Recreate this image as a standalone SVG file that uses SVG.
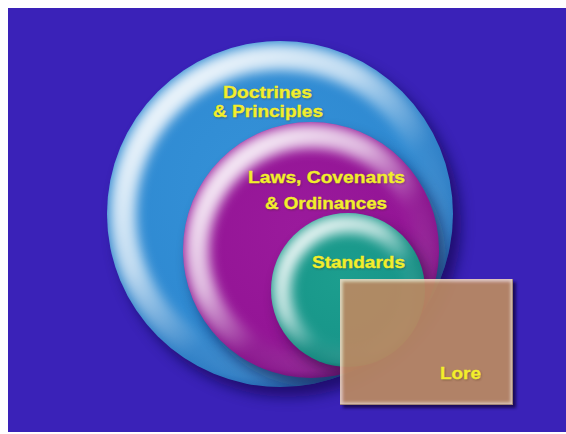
<svg xmlns="http://www.w3.org/2000/svg" width="566" height="434" viewBox="0 0 566 434">
  <defs>
    <style>
      .label { font-family: "Liberation Sans", Arial, sans-serif; font-weight: bold; font-size: 16px; fill: #f2ee2c; stroke: #f2ee2c; stroke-width: 0.35px; }
      .shadowText { font-family: "Liberation Sans", Arial, sans-serif; font-weight: bold; font-size: 16px; fill: #3a2a10; opacity: 0.45; }
    </style>
    <filter id="softShadow" x="-30%" y="-30%" width="160%" height="160%">
      <feGaussianBlur stdDeviation="7"/>
    </filter>
    <filter id="rimBlur" x="-30%" y="-30%" width="160%" height="160%">
      <feGaussianBlur stdDeviation="6"/>
    </filter>
    <filter id="edgeBlur" x="-10%" y="-10%" width="120%" height="120%">
      <feGaussianBlur stdDeviation="1.5"/>
    </filter>
    <filter id="textBlur"><feGaussianBlur stdDeviation="0.8"/></filter>

    <!-- sphere body shading -->
    <radialGradient id="blueBody" cx="0.45" cy="0.42" r="0.6">
      <stop offset="0" stop-color="#3592d8"/>
      <stop offset="0.7" stop-color="#2f8ad2"/>
      <stop offset="0.92" stop-color="#2c7cc4"/>
      <stop offset="1" stop-color="#1e5aa8"/>
    </radialGradient>
    <radialGradient id="magentaBody" cx="0.45" cy="0.42" r="0.6">
      <stop offset="0" stop-color="#9a1a9c"/>
      <stop offset="0.7" stop-color="#941596"/>
      <stop offset="0.92" stop-color="#86128a"/>
      <stop offset="1" stop-color="#5e0c6a"/>
    </radialGradient>
    <radialGradient id="greenBody" cx="0.45" cy="0.42" r="0.6">
      <stop offset="0" stop-color="#1c9e8e"/>
      <stop offset="0.7" stop-color="#18968a"/>
      <stop offset="0.92" stop-color="#13877e"/>
      <stop offset="1" stop-color="#0c6462"/>
    </radialGradient>

    <!-- rim highlight, strongest towards the upper left -->
    <linearGradient id="rimLight" x1="0.1" y1="0.05" x2="0.9" y2="0.95">
      <stop offset="0" stop-color="#ffffff" stop-opacity="0.95"/>
      <stop offset="0.35" stop-color="#ffffff" stop-opacity="0.7"/>
      <stop offset="0.62" stop-color="#ffffff" stop-opacity="0.05"/>
      <stop offset="0.85" stop-color="#ffffff" stop-opacity="0.1"/>
      <stop offset="1" stop-color="#ffffff" stop-opacity="0.22"/>
    </linearGradient>

    <clipPath id="clipBlue"><circle cx="280" cy="214" r="173"/></clipPath>
    <clipPath id="clipMagenta"><circle cx="311" cy="250" r="128"/></clipPath>
    <clipPath id="clipGreen"><circle cx="348" cy="290" r="77"/></clipPath>
    <clipPath id="clipLore"><rect x="340" y="279" width="173" height="126"/></clipPath>
  </defs>

  <!-- page and backdrop -->
  <rect x="0" y="0" width="566" height="434" fill="#ffffff"/>
  <rect x="8" y="8" width="558" height="424" fill="#3a22b8"/>

  <!-- outer sphere -->
  <g id="doctrines">
    <circle cx="288" cy="224" r="173" fill="#0c0640" opacity="0.6" filter="url(#softShadow)"/>
    <circle cx="280" cy="214" r="173" fill="url(#blueBody)"/>
    <g clip-path="url(#clipBlue)">
      <circle cx="280" cy="214" r="157" fill="none" stroke="url(#rimLight)" stroke-width="26" filter="url(#rimBlur)"/>
    </g>
    <text class="shadowText" x="224" y="99" textLength="89" lengthAdjust="spacingAndGlyphs" filter="url(#textBlur)">Doctrines</text>
    <text class="shadowText" x="214" y="118" textLength="110" lengthAdjust="spacingAndGlyphs" filter="url(#textBlur)">&amp; Principles</text>
    <text class="label" x="223" y="98" textLength="89" lengthAdjust="spacingAndGlyphs">Doctrines</text>
    <text class="label" x="213" y="117" textLength="110" lengthAdjust="spacingAndGlyphs">&amp; Principles</text>
  </g>

  <!-- middle sphere -->
  <g id="laws">
    <g clip-path="url(#clipBlue)">
      <circle cx="318" cy="260" r="128" fill="#08103a" opacity="0.55" filter="url(#softShadow)"/>
    </g>
    <circle cx="311" cy="250" r="128" fill="url(#magentaBody)"/>
    <g clip-path="url(#clipMagenta)">
      <circle cx="311" cy="250" r="114" fill="none" stroke="url(#rimLight)" stroke-width="24" filter="url(#rimBlur)"/>
    </g>
    <text class="shadowText" x="249" y="184" textLength="157" lengthAdjust="spacingAndGlyphs" filter="url(#textBlur)">Laws, Covenants</text>
    <text class="shadowText" x="266" y="210" textLength="122" lengthAdjust="spacingAndGlyphs" filter="url(#textBlur)">&amp; Ordinances</text>
    <text class="label" x="248" y="183" textLength="157" lengthAdjust="spacingAndGlyphs">Laws, Covenants</text>
    <text class="label" x="265" y="209" textLength="122" lengthAdjust="spacingAndGlyphs">&amp; Ordinances</text>
  </g>

  <!-- inner sphere -->
  <g id="standards">
    <g clip-path="url(#clipMagenta)">
      <circle cx="355" cy="299" r="77" fill="#200430" opacity="0.55" filter="url(#softShadow)"/>
    </g>
    <circle cx="348" cy="290" r="77" fill="url(#greenBody)"/>
    <g clip-path="url(#clipGreen)">
      <circle cx="348" cy="290" r="66" fill="none" stroke="url(#rimLight)" stroke-width="18" filter="url(#rimBlur)"/>
    </g>
    <text class="shadowText" x="313" y="269" textLength="93" lengthAdjust="spacingAndGlyphs" filter="url(#textBlur)">Standards</text>
    <text class="label" x="312" y="268" textLength="93" lengthAdjust="spacingAndGlyphs">Standards</text>
  </g>

  <!-- translucent panel -->
  <g id="lore">
    <rect x="343" y="282" width="173" height="126" fill="#0a0630" opacity="0.7" filter="url(#edgeBlur)"/>
    <rect x="340" y="279" width="173" height="126" fill="#dca46c" fill-opacity="0.78"/>
    <g clip-path="url(#clipLore)">
      <rect x="340" y="279" width="173" height="126" fill="none" stroke="#ffffff" stroke-opacity="0.55" stroke-width="5" filter="url(#edgeBlur)"/>
      <path d="M340 405 L513 405 L513 279" fill="none" stroke="#6a4a40" stroke-opacity="0.5" stroke-width="2"/>
    </g>
    <text class="shadowText" x="441" y="380" textLength="41" lengthAdjust="spacingAndGlyphs" filter="url(#textBlur)">Lore</text>
    <text class="label" x="440" y="379" textLength="41" lengthAdjust="spacingAndGlyphs">Lore</text>
  </g>
</svg>
